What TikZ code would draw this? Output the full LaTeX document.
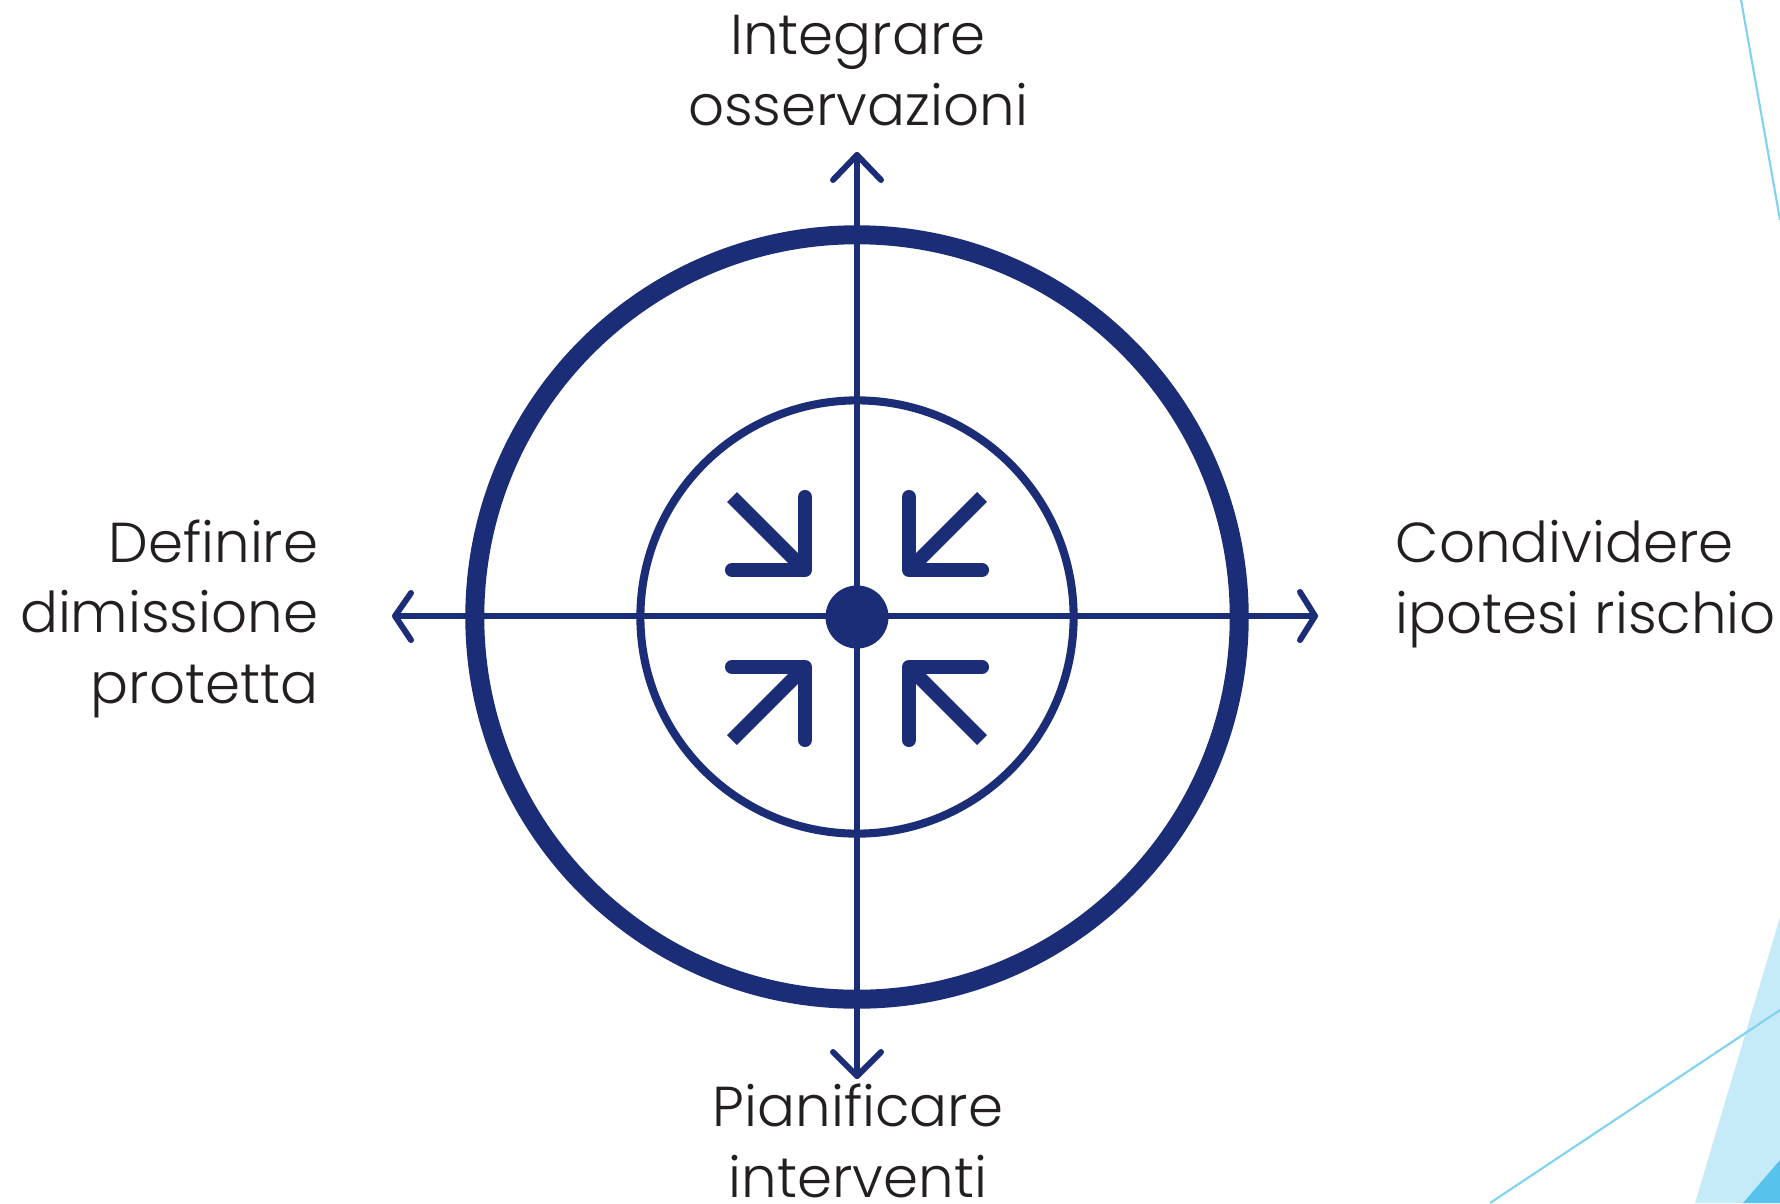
\documentclass[tikz,border=0pt]{standalone}
\usepackage{fontspec}
\setmainfont{Poppins}[UprightFont={* Light}]
\usetikzlibrary{calc}
\definecolor{navy}{RGB}{28,45,120}
\definecolor{txt}{RGB}{35,31,32}
\definecolor{skyline}{RGB}{127,211,240}
\definecolor{skylight}{RGB}{197,234,248}
\definecolor{skydark}{RGB}{85,195,235}
\tikzset{
  axis/.style={draw=navy, line width=1.7pt, line cap=round, line join=round},
  ring/.style={draw=navy, line width=5.4pt},
  innerring/.style={draw=navy, line width=2.3pt},
  arm/.style={draw=navy, line width=4pt, line cap=round, line join=round},
  shaft/.style={draw=navy, line width=4pt, line cap=butt},
  label/.style={text=txt, inner sep=0pt, font=\fontsize{16pt}{20pt}\selectfont},
}
\begin{document}
\begin{tikzpicture}[x=0.01cm, y=-0.01cm]
\useasboundingbox (0,0) rectangle (1780,1203);
% background decorations
\fill[skylight] (1780,917) -- (1695,1203) -- (1780,1203) -- cycle;
\fill[skydark] (1743,1203) -- (1780,1160) -- (1780,1203) -- cycle;
\draw[skyline, line width=0.6pt] (1741,0) -- (1780,220);
\draw[skyline, line width=0.6pt] (1490,1203) -- (1780,1010);
% centre
\node[circle, fill=navy, minimum size=0.63cm, inner sep=0pt] (c) at (857,617) {};
\draw[ring] (c.center) circle[radius=3.82cm];
\draw[innerring] (c.center) circle[radius=2.165cm];
% axis tips
\coordinate (T) at (857,155);
\coordinate (B) at (857,1076);
\coordinate (L) at (395,616);
\coordinate (R) at (1315,616);
\draw[axis] (T) -- (B);
\draw[axis] (L) -- (R);
\draw[axis] ($(T)+(-24,25)$) -- (T) -- ($(T)+(24,25)$);
\draw[axis] ($(B)+(-24,-24)$) -- (B) -- ($(B)+(24,-24)$);
\draw[axis] ($(L)+(16,-23)$) -- (L) -- ($(L)+(16,24)$);
\draw[axis] ($(R)+(-15,-24)$) -- (R) -- ($(R)+(-15,24)$);
% inner converging arrows
\draw[arm] (805,497) -- (805,570) -- (732,570);
\draw[shaft] (732,497) -- (805,570);
\draw[arm] (909,497) -- (909,570) -- (982,570);
\draw[shaft] (982,497) -- (909,570);
\draw[arm] (805,740) -- (805,667) -- (732,667);
\draw[shaft] (732,740) -- (805,667);
\draw[arm] (909,740) -- (909,667) -- (982,667);
\draw[shaft] (982,740) -- (909,667);
% labels (anchored at the baseline of their last line)
\node[label, align=center, anchor=base] (top) at (858,125) {Integrare\\osservazioni};
\node[label, align=right, anchor=base east] (left) at (319,703) {Definire\\dimissione\\protetta};
\node[label, align=left, anchor=base west] (right) at (1395,633) {Condividere\\ipotesi rischio};
\node[label, align=center, anchor=base] (bottom) at (858,1197) {Pianificare\\interventi};
\end{tikzpicture}
\end{document}
